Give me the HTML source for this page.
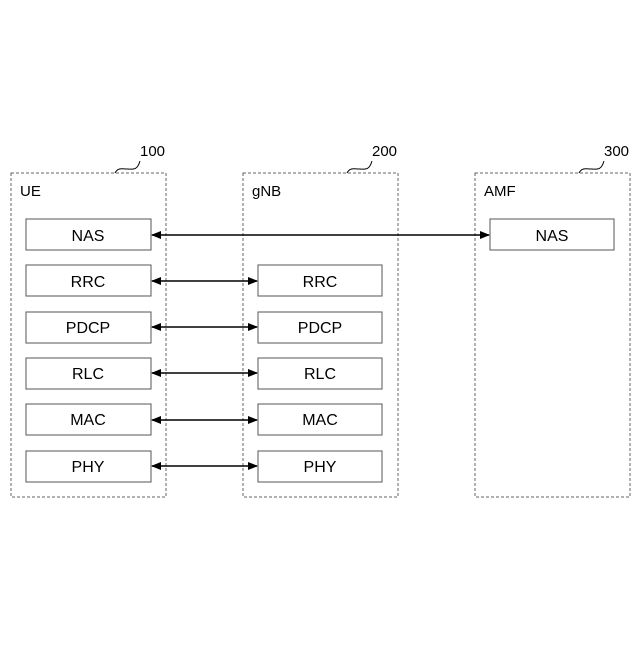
<!DOCTYPE html>
<html><head><style>body{margin:0;background:#fff}</style></head><body>
<svg width="640" height="640" xmlns="http://www.w3.org/2000/svg" font-family="Liberation Sans, sans-serif">
<defs><marker id="a" markerWidth="10" markerHeight="8" refX="9" refY="4" orient="auto-start-reverse" markerUnits="userSpaceOnUse"><path d="M0,0 L10,4 L0,8 Z" fill="#000"/></marker></defs>
<g fill="none" stroke="#666" stroke-dasharray="3,2" stroke-width="1">
<rect x="11" y="173" width="155" height="324"/>
<rect x="243" y="173" width="155" height="324"/>
<rect x="475" y="173" width="155" height="324"/>
</g>
<g fill="none" stroke="#000" stroke-width="1">
<path d="M115,173 c3,-6 8,-4 12,-4 c6,0 10,2 13,-8"/>
<path d="M347,173 c3,-6 8,-4 12,-4 c6,0 10,2 13,-8"/>
<path d="M579,173 c3,-6 8,-4 12,-4 c6,0 10,2 13,-8"/>
</g>
<g font-size="15" fill="#000">
<text x="140" y="156">100</text><text x="372" y="156">200</text><text x="604" y="156">300</text>
<text x="20" y="196">UE</text><text x="252" y="196">gNB</text><text x="484" y="196">AMF</text>
</g>
<g fill="#fff" stroke="#555">
<rect x="26" y="219" width="125" height="31"/><rect x="490" y="219" width="124" height="31"/>
<rect x="26" y="265" width="125" height="31"/><rect x="258" y="265" width="124" height="31"/>
<rect x="26" y="312" width="125" height="31"/><rect x="258" y="312" width="124" height="31"/>
<rect x="26" y="358" width="125" height="31"/><rect x="258" y="358" width="124" height="31"/>
<rect x="26" y="404" width="125" height="31"/><rect x="258" y="404" width="124" height="31"/>
<rect x="26" y="451" width="125" height="31"/><rect x="258" y="451" width="124" height="31"/>
</g>
<g font-size="16" text-anchor="middle" fill="#000">
<text x="88" y="241">NAS</text><text x="552" y="241">NAS</text>
<text x="88" y="287">RRC</text><text x="320" y="287">RRC</text>
<text x="88" y="333">PDCP</text><text x="320" y="333">PDCP</text>
<text x="88" y="379">RLC</text><text x="320" y="379">RLC</text>
<text x="88" y="425">MAC</text><text x="320" y="425">MAC</text>
<text x="88" y="472">PHY</text><text x="320" y="472">PHY</text>
</g>
<g stroke="#000" stroke-width="1.5" marker-start="url(#a)" marker-end="url(#a)">
<line x1="152" y1="235" x2="489" y2="235"/>
<line x1="152" y1="281" x2="257" y2="281"/>
<line x1="152" y1="327" x2="257" y2="327"/>
<line x1="152" y1="373" x2="257" y2="373"/>
<line x1="152" y1="420" x2="257" y2="420"/>
<line x1="152" y1="466" x2="257" y2="466"/>
</g>
</svg>
</body></html>
